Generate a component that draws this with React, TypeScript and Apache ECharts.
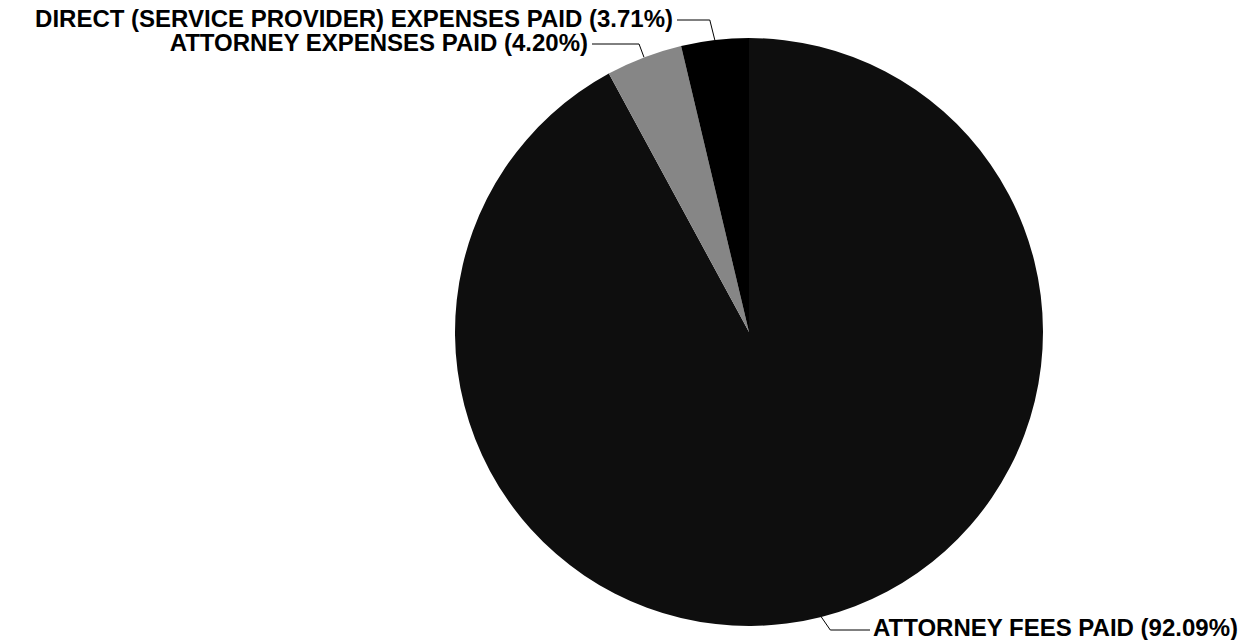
import React, { useEffect, useRef } from "react";
import * as echarts from "echarts";

const categories = [
  "ATTORNEY FEES PAID",
  "ATTORNEY EXPENSES PAID",
  "DIRECT (SERVICE PROVIDER) EXPENSES PAID",
];
const shares = [92.09, 4.2, 3.71];
const sliceColors = ["#0e0e0e", "#868686", "#000000"];

// label anchor placement (layout only)
const labelPlacement = [
  { x: 873, y: 627, align: "left" },
  { x: 588, y: 42, align: "right" },
  { x: 673, y: 18, align: "right" },
];

export default function App() {
  const ref = useRef<HTMLDivElement>(null);
  useEffect(() => {
    document.body.style.margin = "0";
    if (!ref.current) return;
    const chart = echarts.init(ref.current, undefined, { renderer: "svg" });
    chart.setOption({
      animation: false,
      backgroundColor: "#ffffff",
      series: [
        {
          type: "pie",
          center: [749, 332],
          radius: 294,
          startAngle: 90,
          clockwise: true,
          avoidLabelOverlap: false,
          data: categories.map((name, i) => ({
            name,
            value: shares[i],
            itemStyle: { color: sliceColors[i] },
          })),
          itemStyle: { borderWidth: 0 },
          label: {
            show: true,
            position: "outside",
            color: "#000",
            fontFamily: "'Liberation Sans', Arial, sans-serif",
            fontWeight: "bold",
            fontSize: 24,
            lineHeight: 22,
            formatter: (p: any) => `${p.name} (${Number(p.value).toFixed(2)}%)`,
          },
          labelLine: {
            show: true,
            length: 10,
            length2: 10,
            lineStyle: { color: "#000", width: 1 },
          },
          emphasis: { disabled: true },
          labelLayout: (params: any) => {
            const i = params.dataIndex;
            const pl = labelPlacement[i];
            const pts = params.labelLinePoints;
            const p0 = pts && pts[0] ? pts[0] : [pl.x, pl.y];
            let linePts;
            if (pl.align === "right") {
              linePts = [
                [p0[0], p0[1]],
                [p0[0] - 5, pl.y + 2],
                [pl.x + 4, pl.y + 2],
              ];
            } else {
              linePts = [
                [p0[0], p0[1]],
                [p0[0] + 9, pl.y + 3],
                [pl.x - 3, pl.y + 3],
              ];
            }
            return {
              x: pl.x,
              y: pl.y,
              align: pl.align,
              verticalAlign: "middle",
              labelLinePoints: linePts,
            };
          },
        },
      ],
    });
    return () => chart.dispose();
  }, []);
  return <div ref={ref} style={{ width: 1255, height: 640 }} />;
}
